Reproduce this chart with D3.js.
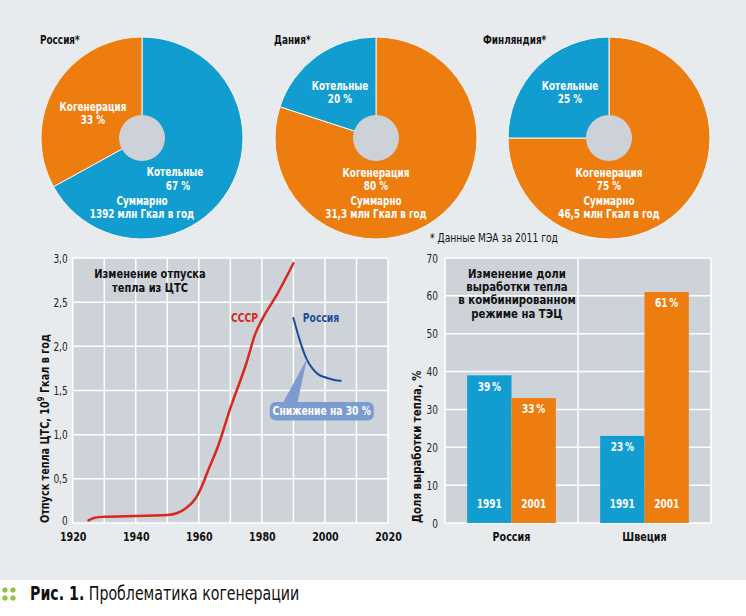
<!DOCTYPE html>
<html><head><meta charset="utf-8">
<script src="https://cdn.jsdelivr.net/npm/d3@7/dist/d3.min.js"></script>
<style>
body{margin:0;background:#fff;}
svg text{font-family:'Liberation Sans Narrow','DejaVu Sans Condensed','Open Sans',sans-serif;}
</style></head>
<body><svg id="c" width="746" height="616"></svg>
<script>
// ---- data ----
const pieCountries = ["Россия*", "Дания*", "Финляндия*"];
const pieBoiler = [67, 20, 25];      // Котельные, %
const pieCogen = [33, 80, 75];       // Когенерация, %
const pieTotals = ["1392", "31,3", "46,5"]; // млн Гкал в год
const footnote = "* Данные МЭА за 2011 год";

const ussrYears = [1925, 1927, 1930, 1940, 1950, 1953, 1956, 1959, 1961, 1963, 1966, 1970, 1975, 1978, 1980, 1985, 1990];
const ussrValues = [0.03, 0.06, 0.07, 0.08, 0.09, 0.11, 0.17, 0.28, 0.42, 0.6, 0.86, 1.3, 1.8, 2.15, 2.3, 2.6, 2.94];
const russiaYears = [1990, 1992, 1994, 1996, 1998, 2000, 2003, 2005];
const russiaValues = [2.32, 2.07, 1.87, 1.75, 1.68, 1.65, 1.62, 1.61];
const lineXTicks = [1920, 1940, 1960, 1980, 2000, 2020];
const lineYTicks = [0, 0.5, 1, 1.5, 2, 2.5, 3];

const barCategories = ["Россия", "Швеция"];
const barYears = ["1991", "2001"];
const bar1991 = [39, 23];
const bar2001 = [33, 61];
const barYTicks = [0, 10, 20, 30, 40, 50, 60, 70];

// ---- styles ----
const BLUE = "#129dd1", ORANGE = "#ee7d10", PANEL = "#e8ebee", PLOT = "#cdd3d9";
const svg = d3.select("#c");

// condensed text helper
function txt(parent, x, y, str, o = {}) {
  const t = parent.append("text")
    .attr("transform", `translate(${x},${y})` + (o.rotate ? ` rotate(${o.rotate})` : "") + ` scale(${o.sx ?? 0.82},1)`)
    .attr("font-size", o.size ?? 12)
    .attr("font-weight", o.weight ?? "bold")
    .attr("fill", o.fill ?? "#111")
    .attr("text-anchor", o.anchor ?? "start");
  if (o.mid) t.attr("dominant-baseline", "middle");
  if (str !== null) t.text(str);
  return t;
}

svg.append("rect").attr("x", 0).attr("y", 0).attr("width", 746).attr("height", 580).attr("fill", PANEL);

// ---- pies ----
const pieCenters = [[142, 138], [376, 138], [609, 138]];
const R = 101, HOLE = 23;
const arc = d3.arc().innerRadius(0).outerRadius(R);
const pieGen = d3.pie().sort(null).value(d => d.v);

pieCountries.forEach((name, i) => {
  const [cx, cy] = pieCenters[i];
  const g = svg.append("g").attr("transform", `translate(${cx},${cy})`);
  const parts = i === 0
    ? [{ v: pieBoiler[i], c: BLUE }, { v: pieCogen[i], c: ORANGE }]
    : [{ v: pieCogen[i], c: ORANGE }, { v: pieBoiler[i], c: BLUE }];
  g.selectAll("path").data(pieGen(parts)).join("path")
    .attr("d", arc).attr("fill", d => d.data.c)
    .attr("stroke", "#f4f6f8").attr("stroke-width", 1);
  g.append("circle").attr("r", HOLE).attr("fill", "#cdd2d8");
  txt(svg, [40, 274, 483][i], 44, name, { size: 13, sx: 0.76 });
  const lbl = (dx, dy, t) => txt(g, dx, dy, t, { anchor: "middle", mid: true, fill: "#fff", size: 12 });
  if (i === 0) {
    lbl(-49, -30, "Когенерация"); lbl(-49, -17, pieCogen[i] + " %");
    lbl(33, 35, "Котельные"); lbl(36, 49, pieBoiler[i] + " %");
  } else {
    const kx = i === 1 ? -36 : -39;
    lbl(kx, -51, "Котельные"); lbl(kx, -38, pieBoiler[i] + " %");
    lbl(0, 36, "Когенерация"); lbl(0, 49, pieCogen[i] + " %");
  }
  lbl(0, 64, "Суммарно"); lbl(0, 77, pieTotals[i] + " млн Гкал в год");
});
txt(svg, 430, 242, footnote, { size: 12, weight: "normal", sx: 0.85 });

// ---- line chart ----
const xL = d3.scaleLinear().domain([1920, 2020]).range([72.7, 388]);
const yL = d3.scaleLinear().domain([0, 3]).range([523, 258]);
const lc = svg.append("g");
lc.append("rect").attr("x", xL(1920)).attr("y", yL(3)).attr("width", xL(2020) - xL(1920)).attr("height", yL(0) - yL(3)).attr("fill", PLOT);
lc.selectAll("line.v").data(d3.range(1920, 2021, 10)).join("line").attr("class", "v")
  .attr("x1", d => xL(d)).attr("x2", d => xL(d)).attr("y1", yL(3)).attr("y2", yL(0))
  .attr("stroke", "#fff").attr("stroke-width", 1.5);
lc.selectAll("line.h").data(lineYTicks).join("line").attr("class", "h")
  .attr("x1", xL(1920)).attr("x2", xL(2020)).attr("y1", d => yL(d)).attr("y2", d => yL(d))
  .attr("stroke", "#fff").attr("stroke-width", 1.5);
const fmtL = d => d === 0 ? "0" : d.toFixed(1).replace(".", ",");
const ayL = lc.append("g").attr("transform", `translate(${xL(1920) - 5},0)`)
  .call(d3.axisLeft(yL).tickValues(lineYTicks).tickFormat(fmtL).tickSize(0).tickPadding(0));
ayL.select(".domain").remove();
ayL.selectAll("text").attr("font-size", 12.5).attr("fill", "#222").attr("transform", "scale(0.8,1)")
  .attr("dy", d => d === 0 ? "0.15em" : "0.32em");
const axL = lc.append("g").attr("transform", `translate(0,${yL(0) + 9})`)
  .call(d3.axisBottom(xL).tickValues(lineXTicks).tickFormat(d3.format("d")).tickSize(0).tickPadding(0));
axL.select(".domain").remove();
axL.selectAll("text").attr("font-size", 12.5).attr("font-weight", "bold").attr("fill", "#111").attr("transform", "scale(0.85,1)");

const lineGen = d3.line().x(d => xL(d[0])).y(d => yL(d[1])).curve(d3.curveMonotoneX);
lc.append("path").attr("d", lineGen(ussrYears.map((y, i) => [y, ussrValues[i]])))
  .attr("fill", "none").attr("stroke", "#d8281c").attr("stroke-width", 2.5).attr("stroke-linecap", "round");
lc.append("path").attr("d", lineGen(russiaYears.map((y, i) => [y, russiaValues[i]])))
  .attr("fill", "none").attr("stroke", "#1e4b9c").attr("stroke-width", 2).attr("stroke-linecap", "round");
txt(lc, xL(1978.8), yL(2.32), "СССР", { anchor: "end", mid: true, fill: "#d8281c", size: 12.5 });
txt(lc, xL(1993), yL(2.32), "Россия", { mid: true, fill: "#1e4b9c", size: 12.5 });
// callout
const CALL = "#7c9bd0";
lc.append("path").attr("d", `M${xL(1986.5)},${yL(1.35)} L${xL(1991.2)},${yL(1.35)} L${xL(1994.3)},${yL(1.86)} Z`).attr("fill", CALL);
lc.append("rect").attr("x", xL(1982.5)).attr("y", yL(1.37)).attr("width", xL(2015.5) - xL(1982.5)).attr("height", yL(1.16) - yL(1.37))
  .attr("rx", 6).attr("fill", CALL);
txt(lc, (xL(1982.5) + xL(2015.5)) / 2, (yL(1.37) + yL(1.16)) / 2, "Снижение на 30 %", { anchor: "middle", mid: true, fill: "#fff", size: 12.5 });
txt(lc, 150, 278, "Изменение отпуска", { anchor: "middle", size: 12.5, sx: 0.88 });
txt(lc, 150, 291.5, "тепла из ЦТС", { anchor: "middle", size: 12.5, sx: 0.88 });
const ylab = txt(lc, 49, yL(0), null, { rotate: -90, size: 13, sx: 0.83 });
ylab.append("tspan").text("Отпуск тепла ЦТС, 10");
ylab.append("tspan").attr("dy", -5).attr("font-size", 9).text("9");
ylab.append("tspan").attr("dy", 5).text(" Гкал в год");

// ---- bar chart ----
const xB = d3.scaleBand().domain(barCategories).range([445, 711]);
const xS = d3.scaleBand().domain(barYears).range([0, xB.bandwidth()]).paddingOuter(0.5);
const yB = d3.scaleLinear().domain([0, 70]).range([523, 258]);
const bc = svg.append("g");
bc.append("rect").attr("x", 445).attr("y", yB(70)).attr("width", 711 - 445).attr("height", yB(0) - yB(70)).attr("fill", PLOT);
bc.selectAll("line.h").data(barYTicks).join("line").attr("class", "h")
  .attr("x1", 445).attr("x2", 711).attr("y1", d => yB(d)).attr("y2", d => yB(d))
  .attr("stroke", "#fff").attr("stroke-width", 1.5);
bc.selectAll("line.v").data([445, xB("Швеция"), 711]).join("line").attr("class", "v")
  .attr("x1", d => d).attr("x2", d => d).attr("y1", yB(70)).attr("y2", yB(0))
  .attr("stroke", "#fff").attr("stroke-width", 1.5);
const ayB = bc.append("g").attr("transform", `translate(438,0)`)
  .call(d3.axisLeft(yB).tickValues(barYTicks).tickFormat(d3.format("d")).tickSize(0).tickPadding(0));
ayB.select(".domain").remove();
ayB.selectAll("text").attr("font-size", 12.5).attr("fill", "#222").attr("transform", "scale(0.8,1)");
const axB = bc.append("g").attr("transform", `translate(0,${yB(0) + 9})`)
  .call(d3.axisBottom(xB).tickSize(0).tickPadding(0));
axB.select(".domain").remove();
axB.selectAll("text").attr("font-size", 13).attr("font-weight", "bold").attr("fill", "#111").attr("transform", "scale(0.82,1)");

const barData = [];
barCategories.forEach((c, i) => {
  barData.push({ c, y: "1991", v: bar1991[i], col: BLUE });
  barData.push({ c, y: "2001", v: bar2001[i], col: ORANGE });
});
const bars = bc.selectAll("g.bar").data(barData).join("g").attr("class", "bar");
bars.append("rect").attr("x", d => xB(d.c) + xS(d.y)).attr("width", xS.bandwidth())
  .attr("y", d => yB(d.v)).attr("height", d => yB(0) - yB(d.v)).attr("fill", d => d.col);
bars.each(function (d) {
  const g = d3.select(this);
  const cx = xB(d.c) + xS(d.y) + xS.bandwidth() / 2;
  txt(g, cx, yB(d.v) + 12, d.v + "\u2009%", { anchor: "middle", mid: true, fill: "#fff", size: 12.5, sx: 0.8 });
  txt(g, cx, yB(0) - 18, d.y, { anchor: "middle", mid: true, fill: "#fff", size: 12.5, sx: 0.8 });
});

["Изменение доли", "выработки тепла", "в комбинированном", "режиме на ТЭЦ"].forEach((t, i) => {
  txt(bc, 517, 278 + i * 13.2, t, { anchor: "middle", size: 12.3, sx: 0.92 });
});
txt(bc, 421, yB(0), "Доля выработки тепла, %", { rotate: -90, size: 13, sx: 0.87 });

// ---- caption ----
const dots = [[5, 590], [13, 590], [5, 598], [13, 598]];
svg.selectAll("circle.dot").data(dots).join("circle").attr("class", "dot")
  .attr("cx", d => d[0]).attr("cy", d => d[1]).attr("r", 2.6).attr("fill", "#8cc43c");
const cap = txt(svg, 30, 600, null, { size: 19, weight: "normal", sx: 0.83 });
cap.append("tspan").attr("font-weight", "bold").text("Рис. 1.");
cap.append("tspan").text(" Проблематика когенерации");
</script></body></html>
